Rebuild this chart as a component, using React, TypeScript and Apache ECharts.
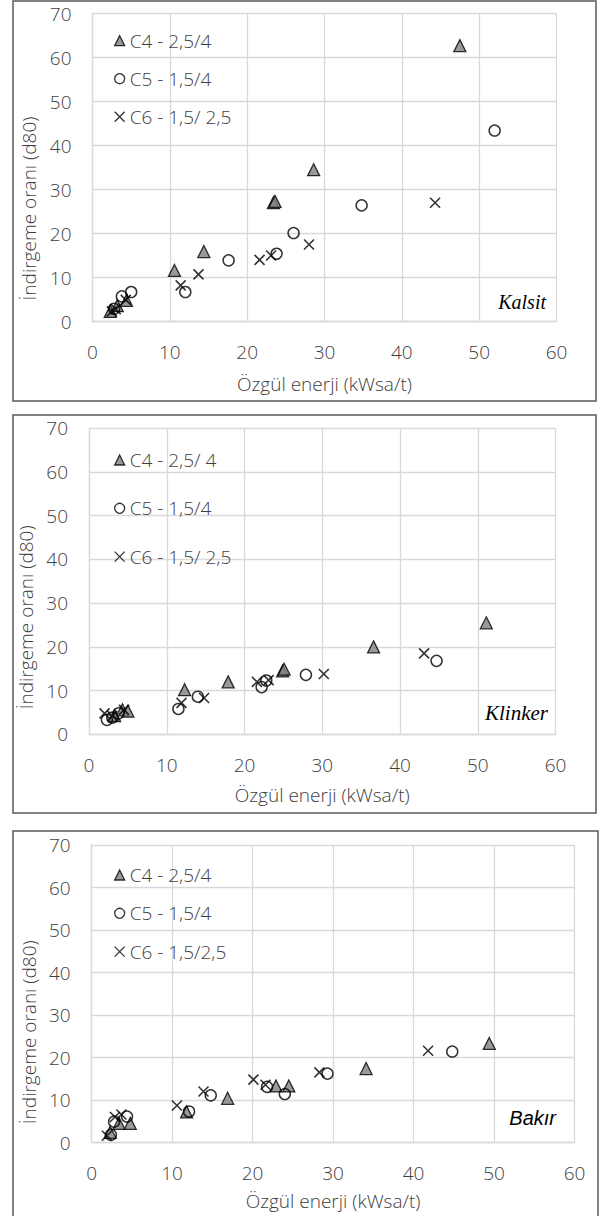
import React, { useEffect, useRef } from "react";
import * as echarts from "echarts";

// ---- data ----
const xMax = 60;
const yMax = 70;
const tickStep = 10;

const panelNames = ["Kalsit", "Klinker", "Bakır"];
const xTitle = "Özgül enerji (kWsa/t)";
const yTitle = "İndirgeme oranı (d80)";

const kalsitLegend = ["C4 - 2,5/4", "C5 - 1,5/4", "C6 - 1,5/ 2,5"];
const klinkerLegend = ["C4 - 2,5/ 4", "C5 - 1,5/4", "C6 - 1,5/ 2,5"];
const bakirLegend = ["C4 - 2,5/4", "C5 - 1,5/4", "C6 - 1,5/2,5"];

const kalsitC4 = [[2.3, 2.3], [3.2, 3.6], [4.4, 4.8], [10.6, 11.6], [14.4, 15.9], [23.4, 27.0], [23.6, 27.3], [28.6, 34.5], [47.5, 62.7]];
const kalsitC5 = [[2.8, 2.9], [3.8, 5.7], [5.0, 6.7], [12.0, 6.7], [17.6, 13.9], [23.8, 15.4], [26.0, 20.1], [34.8, 26.4], [52.0, 43.4]];
const kalsitC6 = [[2.5, 2.3], [3.0, 2.8], [4.3, 4.9], [11.4, 8.2], [13.7, 10.7], [21.6, 14.0], [23.1, 15.0], [28.0, 17.5], [44.3, 27.0]];

const klinkerC4 = [[3.3, 4.3], [4.3, 5.6], [5.0, 5.3], [12.3, 10.2], [17.9, 12.0], [24.9, 14.5], [25.1, 14.9], [36.6, 20.0], [51.1, 25.5]];
const klinkerC5 = [[2.3, 3.3], [3.0, 3.8], [3.8, 4.8], [11.5, 5.8], [14.0, 8.6], [22.2, 10.8], [22.8, 12.3], [27.9, 13.6], [44.7, 16.8]];
const klinkerC6 = [[2.0, 4.8], [3.0, 4.2], [4.5, 5.6], [11.9, 7.2], [14.8, 8.3], [21.6, 12.0], [23.1, 12.4], [30.2, 13.8], [43.1, 18.5]];

const bakirC4 = [[2.3, 2.4], [3.4, 4.5], [4.8, 4.5], [11.8, 7.2], [16.9, 10.4], [22.9, 13.3], [24.5, 13.3], [34.1, 17.4], [49.4, 23.3]];
const bakirC5 = [[2.4, 1.8], [2.8, 4.9], [4.4, 6.1], [12.1, 7.3], [14.8, 11.1], [21.8, 13.1], [24.0, 11.4], [29.3, 16.2], [44.8, 21.4]];
const bakirC6 = [[1.9, 1.6], [2.9, 6.0], [3.7, 6.6], [10.6, 8.7], [13.9, 12.0], [20.1, 14.8], [21.6, 13.6], [28.3, 16.5], [41.8, 21.6]];

const panelData = [
  [kalsitC4, kalsitC5, kalsitC6],
  [klinkerC4, klinkerC5, klinkerC6],
  [bakirC4, bakirC5, bakirC6],
];
const panelLegends = [kalsitLegend, klinkerLegend, bakirLegend];

// ---- layout / style ----
const FONT = "'Open Sans', sans-serif";
const FW = 300;
const TEXT = "#404040";
const GRIDC = "#d9d9d9";
const CROSS = "path://M0,0L10,10M10,0L0,10";

const grids = [
  { left: 92.5, top: 13.5, width: 464, height: 308 },
  { left: 89, top: 428.3, width: 466.5, height: 306 },
  { left: 91.6, top: 845, width: 483, height: 297.5 },
];
const frames = [
  { x: 13, y: 1, w: 583, h: 400 },
  { x: 13, y: 415, w: 583, h: 398 },
  { x: 13, y: 831, w: 585, h: 392 },
];
const legendTops = [25.7, 445, 860];
const legendGaps = [18, 28.3, 18.3];
const xNameGaps = [53, 51, 48.5];
const yNameGaps = [41, 43, 45];
const yNameShift = [82, 72, 77];
const tagPos = [
  { x: 546, y: 302, font: "italic 20px 'Liberation Serif', serif" },
  { x: 548, y: 713, font: "italic 21px 'Liberation Serif', serif" },
  { x: 556, y: 1118, font: "italic 20px 'Liberation Sans', sans-serif" },
];

const symbolDefs = [
  { symbol: "triangle", size: 12, itemStyle: { color: "#7f7f7f", borderColor: "#000", borderWidth: 1.3 } },
  { symbol: "circle", size: 11, itemStyle: { color: "rgba(0,0,0,0)", borderColor: "#000", borderWidth: 1.5 } },
  { symbol: CROSS, size: 10, itemStyle: { color: "rgba(0,0,0,0)", borderColor: "#000", borderWidth: 1.6 } },
];

function buildOption() {
  const grid: any[] = [];
  const xAxis: any[] = [];
  const yAxis: any[] = [];
  const series: any[] = [];
  const legend: any[] = [];
  const graphic: any[] = [];

  for (let p = 0; p < 3; p++) {
    grid.push({ ...grids[p], containLabel: false });
    xAxis.push({
      type: "value",
      gridIndex: p,
      min: 0,
      max: xMax,
      interval: tickStep,
      name: xTitle,
      nameLocation: "middle",
      nameGap: xNameGaps[p],
      nameTextStyle: { color: TEXT, fontSize: 19, fontFamily: FONT, fontWeight: FW },
      axisLine: { show: true, lineStyle: { color: GRIDC, width: 1.3 } },
      axisTick: { show: false },
      axisLabel: { color: TEXT, fontSize: 19, fontFamily: FONT, fontWeight: FW, margin: 21 },
      splitLine: { show: true, lineStyle: { color: GRIDC, width: 1.3 } },
    });
    yAxis.push({
      type: "value",
      gridIndex: p,
      min: 0,
      max: yMax,
      interval: tickStep,
      name: yTitle,
      nameLocation: "middle",
      nameGap: yNameGaps[p],
      nameRotate: 90,
      nameTextStyle: { color: TEXT, fontSize: 19, fontFamily: FONT, fontWeight: FW, padding: [0, yNameShift[p], 0, 0] },
      axisLine: { show: true, lineStyle: { color: GRIDC, width: 1.3 } },
      axisTick: { show: false },
      axisLabel: { color: TEXT, fontSize: 19, fontFamily: FONT, fontWeight: FW, margin: 21 },
      splitLine: { show: true, lineStyle: { color: GRIDC, width: 1.3 } },
    });
    const names = panelLegends[p];
    for (let s = 0; s < 3; s++) {
      const d = symbolDefs[s];
      series.push({
        type: "scatter",
        name: names[s],
        xAxisIndex: p,
        yAxisIndex: p,
        data: panelData[p][s],
        symbol: d.symbol,
        symbolSize: d.size,
        itemStyle: d.itemStyle,
      });
    }
    legend.push({
      orient: "vertical",
      left: 109,
      top: legendTops[p],
      itemWidth: 10,
      itemHeight: 10,
      itemGap: legendGaps[p],
      selectedMode: false,
      itemStyle: { borderWidth: 1.3 },
      textStyle: { color: TEXT, fontSize: 19, fontFamily: FONT, fontWeight: FW, lineHeight: 20 },
      data: names.map((n, i) => ({ name: n, icon: symbolDefs[i].symbol })),
    });
    const f = frames[p];
    graphic.push({
      type: "rect",
      shape: { x: f.x, y: f.y, width: f.w, height: f.h },
      style: { fill: "none", stroke: "#595959", lineWidth: 1.5 },
      silent: true,
      z: -1,
    });
    const t = tagPos[p];
    graphic.push({
      type: "text",
      x: t.x,
      y: t.y,
      style: { text: panelNames[p], font: t.font, fill: "#000", textAlign: "right", textVerticalAlign: "middle" },
    });
  }

  return { animation: false, backgroundColor: "#fff", grid, xAxis, yAxis, series, legend, graphic };
}

export default function App() {
  const ref = useRef<HTMLDivElement>(null);
  useEffect(() => {
    document.body.style.margin = "0";
    const chart = echarts.init(ref.current!, null, { renderer: "svg" });
    chart.setOption(buildOption() as any);
    return () => chart.dispose();
  }, []);
  return <div ref={ref} style={{ width: 606, height: 1216 }} />;
}
